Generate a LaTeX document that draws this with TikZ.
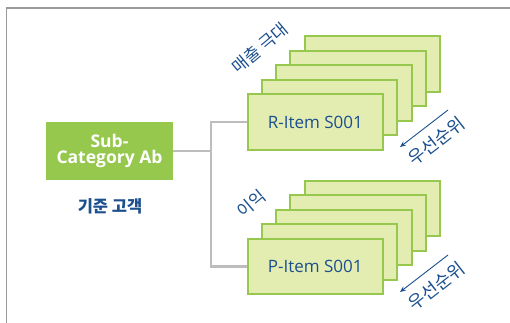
\documentclass[tikz,border=0pt]{standalone}
\usepackage{fontspec}
\setmainfont{Open Sans}
\newfontfamily\kr{Noto Sans CJK KR}
\usetikzlibrary{arrows.meta}
\definecolor{tblue}{HTML}{1B4F8E}
\definecolor{gdark}{HTML}{95C84C}
\definecolor{glight}{HTML}{E3EDB2}
\definecolor{frame}{HTML}{9A9A9A}
\definecolor{conn}{HTML}{BDBDBD}
\tikzset{
  itembox/.style={draw=gdark, fill=glight, line width=2pt, minimum width=135.5pt, minimum height=55.5pt, inner sep=0pt, font=\fontsize{17}{20}\selectfont, text=tblue},
  catbox/.style={fill=gdark, minimum width=127pt, minimum height=58pt, inner sep=0pt, align=center, text=white, font=\bfseries\fontsize{17.5}{19}\selectfont},
  rotlabel/.style={text=tblue, font=\kr\fontsize{17}{19}\selectfont, inner sep=0pt},
  prio/.style={text=tblue, font=\kr\fontsize{18}{20}\selectfont, inner sep=0pt},
  conline/.style={draw=conn, line width=2.5pt, line join=miter},
  prioarrow/.style={draw=tblue, line width=0.9pt, -{Stealth[length=6pt,width=5pt]}}
}
\begin{document}
\begin{tikzpicture}[x=1pt,y=-1pt]
\useasboundingbox (0,0) rectangle (510,323);
% frame
\draw[frame, line width=1.5pt] (6.5,323) -- (6.5,8) -- (510,8);
% sub category
\node[catbox] (sub) at (109.5,151) {Sub-\\[-3pt]Category Ab};
\node[text=tblue, font=\kr\bfseries\fontsize{16.5}{18}\selectfont] (std) at (110,206) {기준 고객};
% R stack
\foreach \i in {4,3,2,1} {
  \node[itembox] (r\i) at ({315.3+14.3*\i},{122-14.5*\i}) {};
}
\node[itembox] (r0) at (315.3,122) {R-Item S001};
% P stack
\foreach \i in {4,3,2,1} {
  \node[itembox] (p\i) at ({315.3+14.3*\i},{266.7-14.5*\i}) {};
}
\node[itembox] (p0) at (315.3,266.7) {P-Item S001};
% connectors
\coordinate (junc) at (211,151);
\draw[conline] (sub.east) -- (junc);
\draw[conline] (r0.west) -| (junc);
\draw[conline] (p0.west) -| (junc);
% labels
\node[rotlabel, rotate=40] (lr) at (260,48) {매출 극대};
\node[rotlabel, rotate=40] (lp) at (251,204) {이익};
% priority arrows
\coordinate (ra1) at (448,110);
\coordinate (ra2) at (400,147);
\draw[prioarrow] (ra1) -- (ra2);
\node[prio, rotate=38] (rt) at (436,141) {우선순위};
\coordinate (pa1) at (448,255);
\coordinate (pa2) at (400,292);
\draw[prioarrow] (pa1) -- (pa2);
\node[prio, rotate=38] (pt) at (436,286) {우선순위};
\end{tikzpicture}
\end{document}
